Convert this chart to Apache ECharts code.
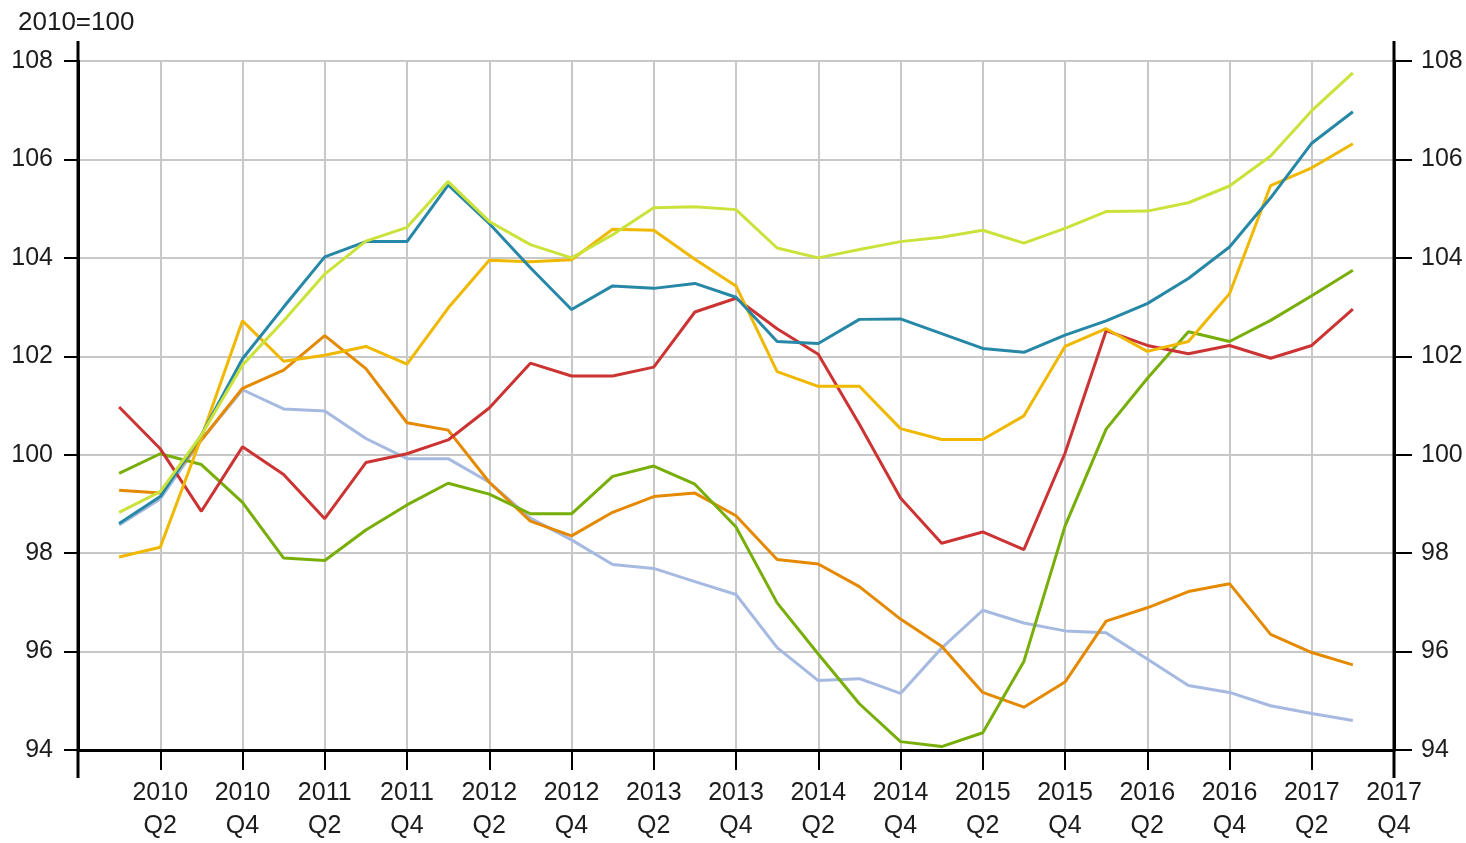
<!DOCTYPE html>
<html>
<head>
<meta charset="utf-8">
<script src="https://cdn.jsdelivr.net/npm/echarts@6/dist/echarts.min.js"></script>
<style>
  html, body { margin: 0; padding: 0; background: #fff; }
  #main { width: 1466px; height: 843px; }
</style>
</head>
<body>
<div id="main"></div>
<script>
// quarters 2009Q4 .. 2017Q4 (first and last are empty slots at the axis edges)
var quarters = [];
quarters.push("2009\nQ4");
for (var y = 2010; y <= 2017; y++) {
  for (var q = 1; q <= 4; q++) quarters.push(y + "\nQ" + q);
}

var yTicks = [94, 96, 98, 100, 102, 104, 106, 108];

// index values 2010Q1 .. 2017Q3
var tealVals = [98.6, 99.15, 100.4, 101.95, 103.0, 104.02, 104.33, 104.33, 105.48, 104.7, 103.8, 102.95, 103.43, 103.38, 103.48, 103.2, 102.3, 102.26, 102.75, 102.76, 102.46, 102.16, 102.08, 102.43, 102.72, 103.07, 103.58, 104.22, 105.22, 106.33, 106.97];
var limeVals = [98.83, 99.25, 100.4, 101.82, 102.72, 103.67, 104.34, 104.62, 105.55, 104.74, 104.27, 104.0, 104.47, 105.02, 105.04, 104.98, 104.2, 104.0, 104.17, 104.33, 104.42, 104.56, 104.3, 104.6, 104.94, 104.95, 105.12, 105.46, 106.07, 106.99, 107.76];
var goldVals = [97.92, 98.12, 100.35, 102.72, 101.9, 102.02, 102.2, 101.84, 102.98, 103.95, 103.92, 103.96, 104.58, 104.56, 103.97, 103.43, 101.69, 101.39, 101.39, 100.53, 100.31, 100.31, 100.79, 102.2, 102.56, 102.1, 102.3, 103.27, 105.47, 105.83, 106.32];
var redVals = [100.97, 100.12, 98.85, 100.16, 99.6, 98.7, 99.84, 100.02, 100.3, 100.95, 101.86, 101.6, 101.6, 101.78, 102.9, 103.18, 102.56, 102.04, 100.62, 99.12, 98.2, 98.43, 98.07, 100.03, 102.52, 102.22, 102.05, 102.22, 101.96, 102.22, 102.96];
var orangeVals = [99.28, 99.22, 100.3, 101.35, 101.72, 102.42, 101.75, 100.65, 100.5, 99.44, 98.65, 98.35, 98.83, 99.15, 99.22, 98.76, 97.87, 97.78, 97.32, 96.66, 96.11, 95.17, 94.87, 95.38, 96.62, 96.89, 97.22, 97.38, 96.35, 95.98, 95.73];
var greenVals = [99.62, 100.02, 99.8, 99.03, 97.9, 97.85, 98.47, 98.98, 99.42, 99.2, 98.8, 98.8, 99.56, 99.77, 99.4, 98.53, 96.99, 95.95, 94.94, 94.17, 94.07, 94.35, 95.8, 98.55, 100.52, 101.55, 102.5, 102.3, 102.73, 103.23, 103.75];
var blueVals = [98.57, 99.1, 100.3, 101.32, 100.93, 100.89, 100.33, 99.92, 99.92, 99.44, 98.71, 98.27, 97.77, 97.69, 97.42, 97.16, 96.08, 95.41, 95.45, 95.15, 96.07, 96.84, 96.58, 96.42, 96.38, 95.85, 95.31, 95.17, 94.9, 94.74, 94.6];

function pad(arr) {
  return [null].concat(arr).concat([null]);
}

var font = "Liberation Sans, Arial, sans-serif";
var txt = "#1c1c1c";
var showEven = function (i) { return i > 0 && i % 2 === 0; };

var chart = echarts.init(document.getElementById("main"));

function line(name, color, vals) {
  return {
    name: name,
    type: "line",
    data: pad(vals),
    showSymbol: false,
    symbol: "none",
    connectNulls: false,
    lineStyle: { color: color, width: 3 },
    itemStyle: { color: color },
    z: 3
  };
}

var option = {
  animation: false,
  backgroundColor: "#ffffff",
  textStyle: { fontFamily: font },
  grid: { left: 78, right: 72, top: 61, bottom: 87, containLabel: false },
  xAxis: {
    type: "category",
    data: quarters,
    boundaryGap: false,
    axisLine: { show: true, lineStyle: { color: "#000", width: 3 } },
    axisTick: { show: true, interval: function (i) { return showEven(i); }, length: 20, lineStyle: { color: "#000", width: 2 } },
    axisLabel: {
      interval: function (i) { return showEven(i); },
      color: txt, fontSize: 25, fontFamily: font, lineHeight: 33, margin: 27
    },
    splitLine: { show: true, interval: function (i) { return showEven(i); }, lineStyle: { color: "#c8c8c8", width: 2 } }
  },
  yAxis: [
    {
      type: "value", position: "left", min: 94, max: 108, interval: 2,
      axisLine: { show: true, lineStyle: { color: "#000", width: 3 } },
      axisTick: { show: true, length: 14, lineStyle: { color: "#000", width: 2 } },
      axisLabel: { color: txt, fontSize: 25, fontFamily: font, margin: 25,
        formatter: function (v) { return yTicks.indexOf(v) >= 0 ? String(v) : ""; } },
      splitLine: { show: true, lineStyle: { color: "#c8c8c8", width: 2 } }
    },
    {
      type: "value", position: "right", min: 94, max: 108, interval: 2,
      axisLine: { show: true, lineStyle: { color: "#000", width: 3 } },
      axisTick: { show: true, length: 18, lineStyle: { color: "#000", width: 2 } },
      axisLabel: { color: txt, fontSize: 25, fontFamily: font, margin: 27 },
      splitLine: { show: false }
    }
  ],
  graphic: [
    { type: "text", left: 18, top: 10, style: { text: "2010=100", fill: txt, font: "26px " + font } },
    { type: "line", shape: { x1: 78, y1: 41, x2: 78, y2: 778 }, style: { stroke: "#000", lineWidth: 3 }, z: 10 },
    { type: "line", shape: { x1: 1394, y1: 41, x2: 1394, y2: 778 }, style: { stroke: "#000", lineWidth: 3 }, z: 10 }
  ],
  series: [
    line("blue", "#a6b9e0", blueVals),
    line("orange", "#e58a00", orangeVals),
    line("green", "#78ae08", greenVals),
    line("red", "#cc3333", redVals),
    line("gold", "#f0b800", goldVals),
    line("teal", "#2688a6", tealVals),
    line("lime", "#cbe23a", limeVals)
  ]
};

chart.setOption(option);
</script>
</body>
</html>
